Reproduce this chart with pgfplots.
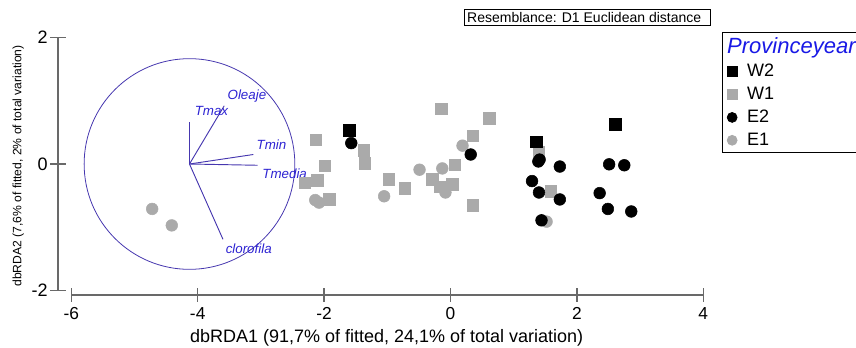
\documentclass[border=0pt]{standalone}
\usepackage{fontspec}
\setmainfont{Liberation Sans}
\usepackage{pgfplots}
\pgfplotsset{compat=1.18}
\definecolor{vec}{RGB}{70,55,175}
\definecolor{vtxt}{RGB}{45,35,210}
\definecolor{ltitle}{RGB}{25,25,230}
\definecolor{mgray}{RGB}{170,170,170}
\definecolor{axgray}{RGB}{105,105,105}
\begin{document}
\begin{tikzpicture}
\begin{axis}[
  x=47.4pt, y=47.47pt,
  xmin=-6.21, xmax=4, ymin=-2.07, ymax=2,
  axis x line*=bottom, axis y line*=left,
  axis line style={draw=none},
  xtick={-6,-4,-2,0,2,4}, xticklabels={-6,-4,-2,0,2,4},
  ytick={-2,0,2}, yticklabels={-2,0,2},
  major tick length=0pt,
  tick style={draw=none},
  xticklabel style={font=\fontsize{13}{15}\selectfont, inner sep=0pt, anchor=north, yshift=-9pt},
  yticklabel style={font=\fontsize{13.5}{15}\selectfont, inner sep=0pt, anchor=east, xshift=-7.5pt},
  clip=false,
  legend style={at={(axis description cs:1.029,1.0198)}, anchor=north west,
    draw=black, line width=0.6pt, font=\fontsize{13.5}{15}\selectfont,
    row sep=3.3pt, inner xsep=3pt, inner ysep=2.5pt,
    nodes={inner sep=1.5pt}},
  legend cell align=left,
  legend image code/.code={\path (-4pt,0pt) (9.5pt,0pt); \draw[mark size=3.7pt,#1] plot coordinates {(0pt,0pt)};},
]
% legend
\addlegendimage{empty legend}
\addlegendentry{\hspace*{-15pt}\fontsize{16.5}{18}\selectfont\color{ltitle}\itshape Provinceyear}
\addlegendimage{only marks, mark=square*, draw=black, fill=black}
\addlegendentry{W2}
\addlegendimage{only marks, mark=square*, draw=mgray, fill=mgray}
\addlegendentry{W1}
\addlegendimage{only marks, mark=*, draw=black, fill=black}
\addlegendentry{E2}
\addlegendimage{only marks, mark=*, draw=mgray, fill=mgray}
\addlegendentry{E1}

% axes lines and ticks
\draw[axgray, line width=1pt] (axis cs:-6,-2.07) -- (axis cs:4,-2.07);
\draw[axgray, line width=1pt] (axis cs:-6.21,-2) -- (axis cs:-6.21,2);
\pgfplotsinvokeforeach{-6,-4,-2,0,2,4}{
  \draw[axgray, line width=1pt] ([yshift=-4.9pt]axis cs:#1,-2.07) -- ([yshift=4.9pt]axis cs:#1,-2.07);
}
\pgfplotsinvokeforeach{-2,0,2}{
  \draw[axgray, line width=1pt] ([xshift=-6.2pt]axis cs:-6.21,#1) -- ([xshift=6.2pt]axis cs:-6.21,#1);
}

% circle and vectors
\draw[vec, line width=0.6pt] (axis cs:-4.13,0) circle[radius=79pt];
\draw[vec, line width=0.7pt] (axis cs:-4.13,0) -- (axis cs:-4.13,0.66);
\draw[vec, line width=0.7pt] (axis cs:-4.13,0) -- (axis cs:-3.58,0.92);
\draw[vec, line width=0.7pt] (axis cs:-4.13,0) -- (axis cs:-3.12,0.15);
\draw[vec, line width=0.7pt] (axis cs:-4.13,0) -- (axis cs:-3.05,-0.02);
\draw[vec, line width=0.7pt] (axis cs:-4.13,0) -- (axis cs:-3.60,-1.19);
\begin{scope}[every node/.style={anchor=west, inner sep=0pt, text=vtxt, font=\fontsize{10}{12}\selectfont\itshape}]
\node at (axis cs:-3.53,1.07) {Oleaje};
\node at (axis cs:-4.05,0.83) {Tmax};
\node at (axis cs:-3.07,0.30) {Tmin};
\node at (axis cs:-2.98,-0.16) {Tmedia};
\node at (axis cs:-3.56,-1.34) {clorofila};
\end{scope}

% E1
\addplot[only marks, mark=*, mark size=4.4pt, draw=mgray, fill=mgray, forget plot] coordinates {
(-4.72,-0.71) (-4.41,-0.97) (-2.14,-0.57) (-2.08,-0.61) (-1.05,-0.51) (-0.49,-0.09)
(0.19,0.29) (-0.13,-0.07) (-0.08,-0.45) (1.52,-0.91)
};
% W1
\addplot[only marks, mark=square*, mark size=4.3pt, draw=mgray, fill=mgray, forget plot] coordinates {
(-2.13,0.38) (-1.37,0.22) (-1.36,0.01) (-1.99,-0.03) (-2.11,-0.26) (-2.31,-0.30)
(-1.92,-0.56) (-0.98,-0.24) (-0.72,-0.38) (-0.145,0.87) (0.61,0.72) (0.35,0.45)
(0.07,-0.01) (-0.29,-0.24) (-0.17,-0.36) (0.03,-0.32) (0.35,-0.65) (1.40,0.19) (1.59,-0.43)
};
% E2
\addplot[only marks, mark=*, mark size=4.4pt, draw=black, fill=black, forget plot] coordinates {
(-1.57,0.33) (0.32,0.15) (1.41,0.07) (1.39,0.04) (1.73,-0.04) (1.29,-0.27) (1.40,-0.45)
(1.73,-0.56) (1.44,-0.89) (2.51,-0.005) (2.75,-0.02) (2.36,-0.46) (2.49,-0.71) (2.86,-0.75)
};
% W2
\addplot[only marks, mark=square*, mark size=4.3pt, draw=black, fill=black, forget plot] coordinates {
(-1.60,0.53) (1.36,0.35) (2.61,0.63)
};

% resemblance box
\draw[black, line width=0.6pt] (axis cs:0.214,2.444) rectangle (axis cs:4.106,2.185);
\node[anchor=west, inner sep=0pt, font=\fontsize{10.5}{12}\selectfont] at (axis cs:0.26,2.3145) {Resemblance: D1 Euclidean distance};

% axis titles
\node[anchor=base, inner sep=0pt, font=\fontsize{13.5}{15}\selectfont] at (axis cs:-1.01,-2.82) {dbRDA1 (91,7\% of fitted, 24,1\% of total variation)};
\node[rotate=90, anchor=center, inner sep=0pt, font=\fontsize{9.1}{11}\selectfont] at (axis cs:-6.84,-0.03) {dbRDA2 (7,6\% of fitted, 2\% of total variation)};

\coordinate (BL) at (axis cs:-7.128,-2.907);
\coordinate (TR) at (axis cs:6.416,2.591);
\end{axis}
\pgfresetboundingbox
\path (BL) rectangle (TR);
\end{tikzpicture}
\end{document}
